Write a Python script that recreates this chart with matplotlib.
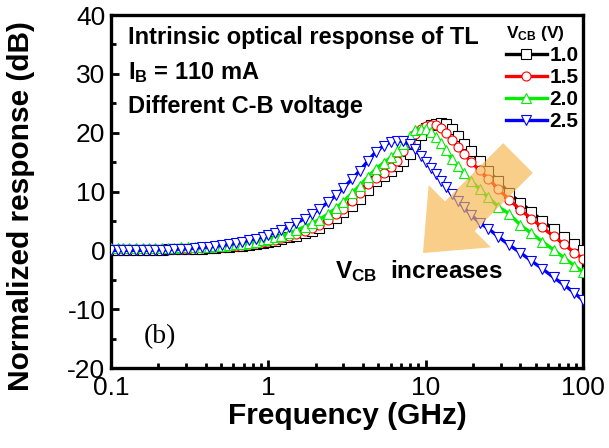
import numpy as np
import matplotlib
matplotlib.use("Agg")
import matplotlib.pyplot as plt
import matplotlib.patches as mpatches
from matplotlib.ticker import MultipleLocator, FixedLocator, NullFormatter, LogLocator

plt.rcParams["font.family"] = ["Liberation Sans", "DejaVu Sans"]
plt.rcParams["mathtext.fontset"] = "custom"
plt.rcParams["mathtext.rm"] = "Liberation Sans"
plt.rcParams["mathtext.bf"] = "Liberation Sans:bold"
plt.rcParams["axes.unicode_minus"] = False

# frequency points (GHz)
freq = [0.10, 0.11, 0.12, 0.13, 0.145, 0.16, 0.175, 0.19, 0.21, 0.23, 0.25, 0.28,
        0.31, 0.34, 0.38, 0.42, 0.46, 0.51, 0.56, 0.62, 0.68, 0.75, 0.83, 0.92,
        1.0, 1.1, 1.2, 1.35, 1.5, 1.7, 1.9, 2.1, 2.4, 2.7, 3.0, 3.4, 3.8, 4.3,
        4.8, 5.4, 6.0, 6.6, 7.2, 7.9, 8.6, 9.3, 10.0, 10.8, 11.6, 12.5, 13.5,
        14.6, 16.0, 17.5, 19.5, 22.0, 25.0, 29.0, 34.0, 40.0, 47.0, 55.0, 65.0,
        76.0, 88.0, 100.0]

# normalized response (dB) for each V_CB
resp_10 = [0.1, 0.1, 0.1, 0.1, 0.1, 0.1, 0.1, 0.1, 0.1, 0.2, 0.2, 0.2,
           0.2, 0.3, 0.3, 0.4, 0.4, 0.5, 0.6, 0.7, 0.8, 0.9, 1.1, 1.3,
           1.4, 1.6, 1.9, 2.2, 2.5, 2.9, 3.3, 3.8, 4.6, 5.5, 6.5, 7.6, 8.8, 10.3,
           11.8, 12.7, 13.5, 14.3, 15.2, 16.4, 18.0, 19.6, 20.8, 21.3, 21.5, 21.6, 21.4,
           20.7, 19.4, 18.1, 16.8, 15.1, 13.5, 11.7, 9.7, 8.1, 6.6, 5.0, 3.6,
           2.3, 1.1, 0.0]
resp_15 = [0.2, 0.2, 0.2, 0.2, 0.2, 0.2, 0.2, 0.2, 0.2, 0.2, 0.3, 0.3,
           0.3, 0.4, 0.4, 0.5, 0.5, 0.6, 0.7, 0.8, 0.9, 1.1, 1.2, 1.4,
           1.6, 1.8, 2.1, 2.5, 2.8, 3.3, 3.8, 4.3, 5.2, 6.1, 7.1, 8.4, 9.7, 11.2,
           12.3, 13.2, 14.1, 15.2, 16.8, 18.3, 19.8, 20.7, 21.1, 21.3, 21.3, 20.8, 19.9,
           18.8, 17.6, 16.4, 15.0, 13.6, 12.2, 10.4, 8.6, 6.9, 5.4, 3.9, 2.4,
           1.0, -0.4, -1.4]
resp_20 = [0.4, 0.4, 0.4, 0.4, 0.4, 0.4, 0.4, 0.4, 0.4, 0.4, 0.4, 0.5,
           0.5, 0.5, 0.6, 0.6, 0.7, 0.8, 0.9, 1.0, 1.1, 1.3, 1.5, 1.7,
           1.9, 2.2, 2.5, 2.9, 3.4, 4.0, 4.6, 5.2, 6.2, 7.2, 8.3, 9.7, 11.0, 12.5,
           13.8, 14.9, 15.8, 16.8, 18.0, 19.4, 20.4, 20.7, 20.6, 20.1, 19.3, 18.3, 17.0,
           15.6, 14.3, 13.1, 11.8, 10.4, 9.0, 7.4, 6.2, 4.3, 2.9, 1.5, 0.1,
           -1.3, -2.6, -3.7]
resp_25 = [0.0, 0.0, 0.0, 0.0, 0.0, 0.0, 0.0, 0.1, 0.1, 0.1, 0.2, 0.2,
           0.3, 0.4, 0.5, 0.6, 0.7, 0.9, 1.0, 1.2, 1.4, 1.7, 2.0, 2.3,
           2.6, 3.0, 3.4, 4.0, 4.6, 5.4, 6.2, 7.0, 8.2, 9.4, 10.6, 12.1, 13.5, 15.2,
           16.7, 17.8, 18.4, 18.6, 18.5, 18.0, 17.2, 16.0, 15.0, 14.0, 12.9, 11.8, 10.7,
           9.6, 8.4, 7.3, 6.0, 4.7, 3.7, 2.3, 0.9, -0.4, -1.8, -3.1, -4.6,
           -5.9, -7.2, -8.5]

labels = ["1.0", "1.5", "2.0", "2.5"]
colors = ["black", "red", "#00ee00", "blue"]
markers = ["s", "o", "^", "v"]

fig = plt.figure(figsize=(6.09, 4.48), dpi=100)
ax = fig.add_axes([111 / 609, 1 - 368 / 448, 472 / 609, 353 / 448])

for resp, lab, c, m in zip([resp_10, resp_15, resp_20, resp_25], labels, colors, markers):
    ax.plot(freq, resp, color=c, lw=2.4, marker=m, markersize=6.5,
            markerfacecolor="white", markeredgecolor=c, markeredgewidth=0.8,
            label=lab, zorder=3)

ax.set_xscale("log")
ax.set_xlim(0.1, 100)
ax.set_ylim(-20, 40)
ax.yaxis.set_major_locator(MultipleLocator(10))
ax.yaxis.set_minor_locator(MultipleLocator(5))
ax.xaxis.set_major_locator(FixedLocator([0.1, 1, 10, 100]))
ax.set_xticklabels(["0.1", "1", "10", "100"])
ax.xaxis.set_minor_locator(LogLocator(base=10, subs=np.arange(2, 10)))
ax.xaxis.set_minor_formatter(NullFormatter())

ax.tick_params(which="major", direction="in", length=6, width=2, labelsize=19, pad=4)
ax.tick_params(axis="x", which="major", pad=6)
ax.tick_params(which="minor", direction="in", length=3.5, width=2)
for s in ax.spines.values():
    s.set_linewidth(2.4)

ax.set_xlabel("Frequency (GHz)", fontsize=21.5, fontweight="bold", labelpad=1)
ax.set_ylabel("Normalized response (dB)", fontsize=21.5, fontweight="bold")
ax.yaxis.set_label_coords(-0.16, 0.46)

ax.text(0.036, 0.935, "Intrinsic optical response of TL", transform=ax.transAxes,
        fontsize=17, fontweight="bold", va="center")
ax.text(0.036, 0.836, r"$\mathbf{I_B}$ = 110 mA", transform=ax.transAxes,
        fontsize=17, fontweight="bold", va="center")
ax.text(0.036, 0.742, "Different C-B voltage", transform=ax.transAxes,
        fontsize=17, fontweight="bold", va="center")
ax.text(0.475, 0.274, r"$\mathbf{V_{CB}}$  increases", transform=ax.transAxes,
        fontsize=17.5, fontweight="bold", va="center")
ax.text(0.07, 0.09, "(b)", transform=ax.transAxes, fontsize=20,
        family=["Liberation Serif", "DejaVu Serif"], va="center")

leg = ax.legend(loc="upper left", bbox_to_anchor=(0.805, 1.015), frameon=False,
                fontsize=15, handlelength=2.0, handletextpad=0.1, labelspacing=0.14,
                borderpad=0.2, title=r"$\mathbf{V_{CB}}$ (V)", alignment="left",
                title_fontproperties={"size": 12.5, "weight": "bold"})
for t in leg.get_texts():
    t.set_fontweight("bold")

# big orange arrow, in figure inches so it keeps its shape
arrow = mpatches.FancyArrow(5.18, 2.90, -0.95, -0.95, width=0.42, head_width=0.88,
                            head_length=0.52, length_includes_head=True,
                            transform=fig.dpi_scale_trans, color="#F5B548",
                            alpha=0.65, lw=0, zorder=10)
fig.patches.append(arrow)

fig.savefig("out.png", dpi=100)
